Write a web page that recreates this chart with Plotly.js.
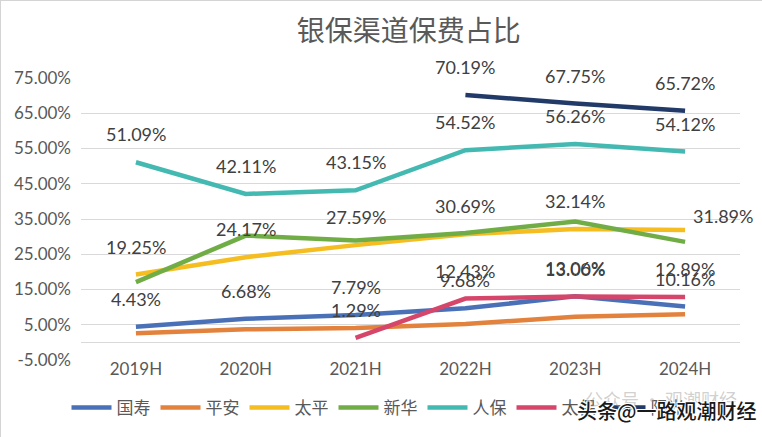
<!DOCTYPE html>
<html>
<head>
<meta charset="utf-8">
<script src="https://cdn.plot.ly/plotly-3.0.1.min.js"></script>
<style>
html,body{margin:0;padding:0;background:#fff;}
#chart{width:760px;height:435px;border:1px solid #d4d4d4;}
</style>
</head>
<body>
<div id="chart"></div>
<script>
// ---- data ----
const categories = ['2019H','2020H','2021H','2022H','2023H','2024H'];
const guoshou  = [4.43, 6.68, 7.79, 9.68, 13.06, 10.16];   // 国寿
const pingan   = [2.6, 3.7, 4.1, 5.2, 7.3, 8.0];            // 平安 (no labels, estimated)
const taiping  = [19.25, 24.17, 27.59, 30.69, 32.14, 31.89]; // 太平
const xinhua   = [17.1, 30.3, 28.9, 31.0, 34.3, 28.5];      // 新华 (no labels, estimated)
const renbao   = [51.09, 42.11, 43.15, 54.52, 56.26, 54.12]; // 人保
const taibao   = [null, null, 1.29, 12.43, 13.00, 12.89];   // 太保
const yangguang= [null, null, null, 70.19, 67.75, 65.72];   // 阳光
const seriesNames = ['国寿','平安','太平','新华','人保','太保','阳光'];
const yTickVals = [-5, 5, 15, 25, 35, 45, 55, 65, 75];
const yTickLabels = ['-5.00%','5.00%','15.00%','25.00%','35.00%','45.00%','55.00%','65.00%','75.00%'];
const titleText = '银保渠道保费占比';

// ---- styling ----
const colors = ['#4a71b8','#e2823c','#f5bd1f','#71ad46','#43b9b1','#d5466a','#213a68'];
const allSeries = [guoshou, pingan, taiping, xinhua, renbao, taibao, yangguang];
const labelled = [true, false, true, false, true, true, true];

const traces = allSeries.map((vals, i) => ({
  type: 'scatter',
  mode: 'lines',
  name: seriesNames[i],
  x: categories,
  y: vals,
  connectgaps: false,
  line: {color: colors[i], width: 4.5},
  hoverinfo: 'skip'
}));

const annotations = [];
allSeries.forEach((vals, i) => {
  if (!labelled[i]) return;
  vals.forEach((v, j) => {
    if (v === null) return;
    let xs = 0, ys = 28;
    if (i === 2 && j === 5) { xs = 38; ys = 14; }
    annotations.push({
      x: categories[j], y: v, xref: 'x', yref: 'y',
      text: v.toFixed(2) + '%',
      showarrow: false, xshift: xs, yshift: ys,
      font: {family: 'Lato, "Open Sans", sans-serif', size: 18, color: '#404040'}
    });
  });
});

// watermark texts
annotations.push({
  xref: 'paper', yref: 'paper', x: 0.88, xanchor: 'center', y: -0.14, yanchor: 'middle',
  text: '公众号 · 观潮财经', showarrow: false,
  font: {family: '"Noto Sans CJK SC", sans-serif', size: 18, color: 'rgba(150,150,150,0.45)'}
});
annotations.push({
  xref: 'paper', yref: 'paper', x: 0.888, xanchor: 'center', y: -0.18, yanchor: 'middle',
  text: '头条@一路观潮财经', showarrow: false,
  font: {family: '"Noto Sans CJK SC", sans-serif', size: 20, weight: 500, color: '#1a1a1a',
         shadow: '1px 1px 0 #fff, -1px -1px 0 #fff, 1px -1px 0 #fff, -1px 1px 0 #fff'}
});

const layout = {
  width: 762, height: 437,
  margin: {l: 80, r: 23, t: 77, b: 76},
  paper_bgcolor: '#ffffff',
  plot_bgcolor: '#ffffff',
  title: {
    text: titleText,
    x: 0.535, xanchor: 'center', y: 0.93, yanchor: 'middle',
    font: {family: '"Noto Sans CJK SC", sans-serif', size: 28, color: '#595959'}
  },
  xaxis: {
    type: 'category',
    range: [-0.5, 5.5],
    showgrid: false, zeroline: false, showline: false,
    ticks: '', ticklabelstandoff: -3,
    tickfont: {family: 'Lato, "Open Sans", sans-serif', size: 17, color: '#595959'},
    fixedrange: true
  },
  yaxis: {
    range: [-5, 75],
    tickvals: yTickVals, ticktext: yTickLabels,
    showgrid: true, gridcolor: '#d9d9d9', gridwidth: 1,
    zeroline: true, zerolinecolor: '#d9d9d9', zerolinewidth: 1,
    showline: false, ticks: '', ticklabelstandoff: 9,
    tickfont: {family: 'Lato, "Open Sans", sans-serif', size: 17, color: '#595959'},
    fixedrange: true
  },
  showlegend: true,
  legend: {
    orientation: 'h',
    x: -0.022, xanchor: 'left',
    y: -0.17, yanchor: 'middle',
    itemwidth: 40,
    traceorder: 'normal',
    font: {family: '"Noto Sans CJK SC", sans-serif', size: 17, color: '#595959'},
    bgcolor: 'rgba(0,0,0,0)'
  },
  annotations: annotations
};

Plotly.newPlot('chart', traces, layout, {displayModeBar: false, staticPlot: true});
</script>
</body>
</html>
